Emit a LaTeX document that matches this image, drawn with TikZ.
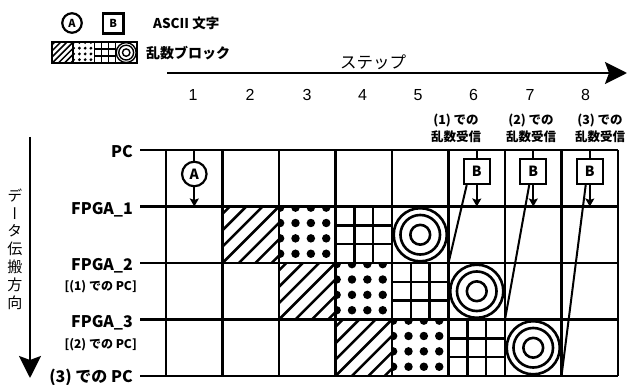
\documentclass[tikz,border=0pt]{standalone}
\usepackage{fontspec}
\usepackage{graphicx}
\newfontfamily\jp{Noto Sans CJK JP}
\newfontfamily\jpv[RawFeature=+vert]{Noto Sans CJK JP}
\newfontfamily\ar{Liberation Sans}
\usetikzlibrary{arrows.meta}

\newcommand\hatchP[4]{\begin{scope}\clip (#1,#2) rectangle ++(#3,#3);
 \foreach \k in {-4,...,4}{\draw[line width=#4] ({#1+\k*0.29*#3},{#2+#3}) -- ++(#3,-#3);}
 \end{scope}}
\newcommand\dotP[3]{\begin{scope}\clip (#1,#2) rectangle ++(#3,#3);
 \foreach \i in {0,...,3}{\foreach \j in {0,...,3}{\fill ({#1+(0.02+0.272*\i)*#3},{#2+(0.02+0.272*\j)*#3}) circle[radius={0.075*#3*1pt}];}}
 \end{scope}}
\newcommand\gridP[4]{\draw[line width=#4] ({#1+#3/3},#2) -- ++(0,#3) ({#1+2*#3/3},#2) -- ++(0,#3) (#1,{#2+#3/3}) -- ++(#3,0) (#1,{#2+2*#3/3}) -- ++(#3,0);}
\newcommand\ringP[4]{\foreach \r in {0.47,0.35,0.175}{\draw[line width=#4] ({#1+#3/2},{#2+#3/2}) circle[radius={\r*#3*1pt}];}}

\tikzset{
  gridline/.style={line width=2.5pt},
  bigarrow/.style={line width=2.5pt,-{Stealth[length=22pt,width=22pt,inset=4pt]}},
  smallarrow/.style={line width=2pt,-{Stealth[length=8pt,width=9pt,inset=1.5pt]}},
  plainline/.style={line width=2pt},
  lab/.style={font=\jp\bfseries\fontsize{16}{16}\selectfont,anchor=base east,inner sep=0pt},
  sublab/.style={font=\jp\bfseries\fontsize{12}{12}\selectfont,anchor=base east,inner sep=0pt},
  num/.style={font=\ar\fontsize{16}{16}\selectfont,inner sep=0pt},
  ann/.style={font=\jp\bfseries\fontsize{12.5}{17}\selectfont,align=center,inner sep=0pt},
  abox/.style={circle,draw,line width=2.2pt,minimum size=24.5pt,inner sep=0pt,font=\jp\bfseries\fontsize{14}{14}\selectfont},
  bbox/.style={rectangle,draw,line width=2.2pt,minimum width=26pt,minimum height=25pt,inner sep=0pt,font=\jp\bfseries\fontsize{14}{14}\selectfont},
}

\begin{document}
\begin{tikzpicture}[x=1pt,y=-1pt]
\useasboundingbox (0,0) rectangle (627,385);

% legend
\node[abox,minimum size=19.5pt,line width=2.2pt,font=\jp\bfseries\fontsize{11}{11}\selectfont] (LA) at (72,23) {A};
\node[bbox,minimum width=20.5pt,minimum height=20pt,line width=2.2pt,font=\jp\bfseries\fontsize{11}{11}\selectfont] (LB) at (113.3,23.5) {B};
\node[font=\jp\bfseries\fontsize{13.5}{13.5}\selectfont,anchor=west,inner sep=0pt] (LAt) at (153,23) {ASCII 文字};
\hatchP{52}{42}{21.2}{1.5}
\dotP{73.2}{42}{21.2}
\gridP{94.4}{42}{21.2}{1.4}
\ringP{115.6}{42}{21.2}{1.4}
\foreach \xx in {52,73.2,94.4,115.6}{\draw[line width=1.6pt] (\xx,42) rectangle ++(21.2,21.2);}
\node[font=\jp\bfseries\fontsize{14}{14}\selectfont,anchor=west,inner sep=0pt] (LBt) at (146,53) {乱数ブロック};

% step arrow
\coordinate (sa) at (167,73);
\coordinate (sb) at (627,73);
\draw[bigarrow] (sa) -- (sb);
\node[font=\jp\fontsize{16.5}{16.5}\selectfont,inner sep=0pt] (stl) at (373,62) {ステップ};
\foreach \n/\xx in {1/193,2/250,3/307,4/362.5,5/418,6/473.5,7/530,8/585.5}{\node[num] (n\n) at (\xx,95) {\n};}
\node[ann] (ann6) at (456,128.5) {(1) での\\乱数受信};
\node[ann] (ann7) at (531,128.5) {(2) での\\乱数受信};
\node[ann] (ann8) at (600,128.5) {(3) での\\乱数受信};

% propagation arrow
\coordinate (va) at (30,137);
\coordinate (vb) at (30,378);
\draw[bigarrow] (va) -- (vb);
\node[font=\jpv\fontsize{15}{17.8}\selectfont,align=center,inner sep=0pt] (vt) at (15,249) {デ\\ー\\タ\\伝\\搬\\方\\向};

% grid coordinates
\foreach \c in {0,...,8}{\foreach \r in {0,...,4}{\coordinate (g-\c-\r) at ({166+56.5*\c},{150+56.5*\r});}}
\foreach \r in {0,...,4}{\coordinate (s-\r) at (140,{150+56.5*\r});}

% patterns
\hatchP{222.5}{206.5}{56.5}{2.5}
\dotP{279}{206.5}{56.5}
\gridP{335.5}{206.5}{56.5}{2.4}
\ringP{392}{206.5}{56.5}{2.6}
\hatchP{279}{263}{56.5}{2.5}
\dotP{335.5}{263}{56.5}
\gridP{392}{263}{56.5}{2.4}
\ringP{448.5}{263}{56.5}{2.6}
\hatchP{335.5}{319.5}{56.5}{2.5}
\dotP{392}{319.5}{56.5}
\gridP{448.5}{319.5}{56.5}{2.4}
\ringP{505}{319.5}{56.5}{2.6}

% grid lines
\foreach \r in {0,...,4}{\draw[gridline] (s-\r) -- (g-8-\r);}
\foreach \c in {0,...,8}{\draw[gridline] (g-\c-0) -- (g-\c-4);}

% row labels
\node[lab] (lPC) at (133,158) {PC};
\node[lab] (lF1) at (133,214.5) {FPGA\_1};
\node[lab] (lF2) at (133,270.5) {FPGA\_2};
\node[sublab] (lF2s) at (137,290.5) {[(1) での PC]};
\node[lab] (lF3) at (133,327.5) {FPGA\_3};
\node[sublab] (lF3s) at (137,348) {[(2) での PC]};
\node[lab] (lPC3) at (133,382) {(3) での PC};

% A transfer
\node[abox] (A) at (194.3,174) {A};
\coordinate (At) at (194.3,150);
\coordinate (Ab) at (194.3,206.5);
\draw[plainline] (At) -- (A.north);
\draw[smallarrow] (A.south) -- (Ab);

% B transfers
\foreach \k/\xx in {6/476.8,7/533.3,8/589.8}{
  \node[bbox] (B\k) at (\xx,171.5) {B};
  \coordinate (Bt\k) at (\xx,150);
  \coordinate (Bb\k) at (\xx,206.5);
  \draw[plainline] (Bt\k) -- (B\k.north);
  \draw[smallarrow] (B\k.south) -- (Bb\k);
}
\draw[plainline] ([xshift=4pt]B6.south west) -- (g-5-2);
\draw[plainline] ([xshift=10pt]B7.south west) -- (g-6-3);
\draw[plainline] ([xshift=10pt]B8.south west) -- (g-7-4);
\end{tikzpicture}
\end{document}
